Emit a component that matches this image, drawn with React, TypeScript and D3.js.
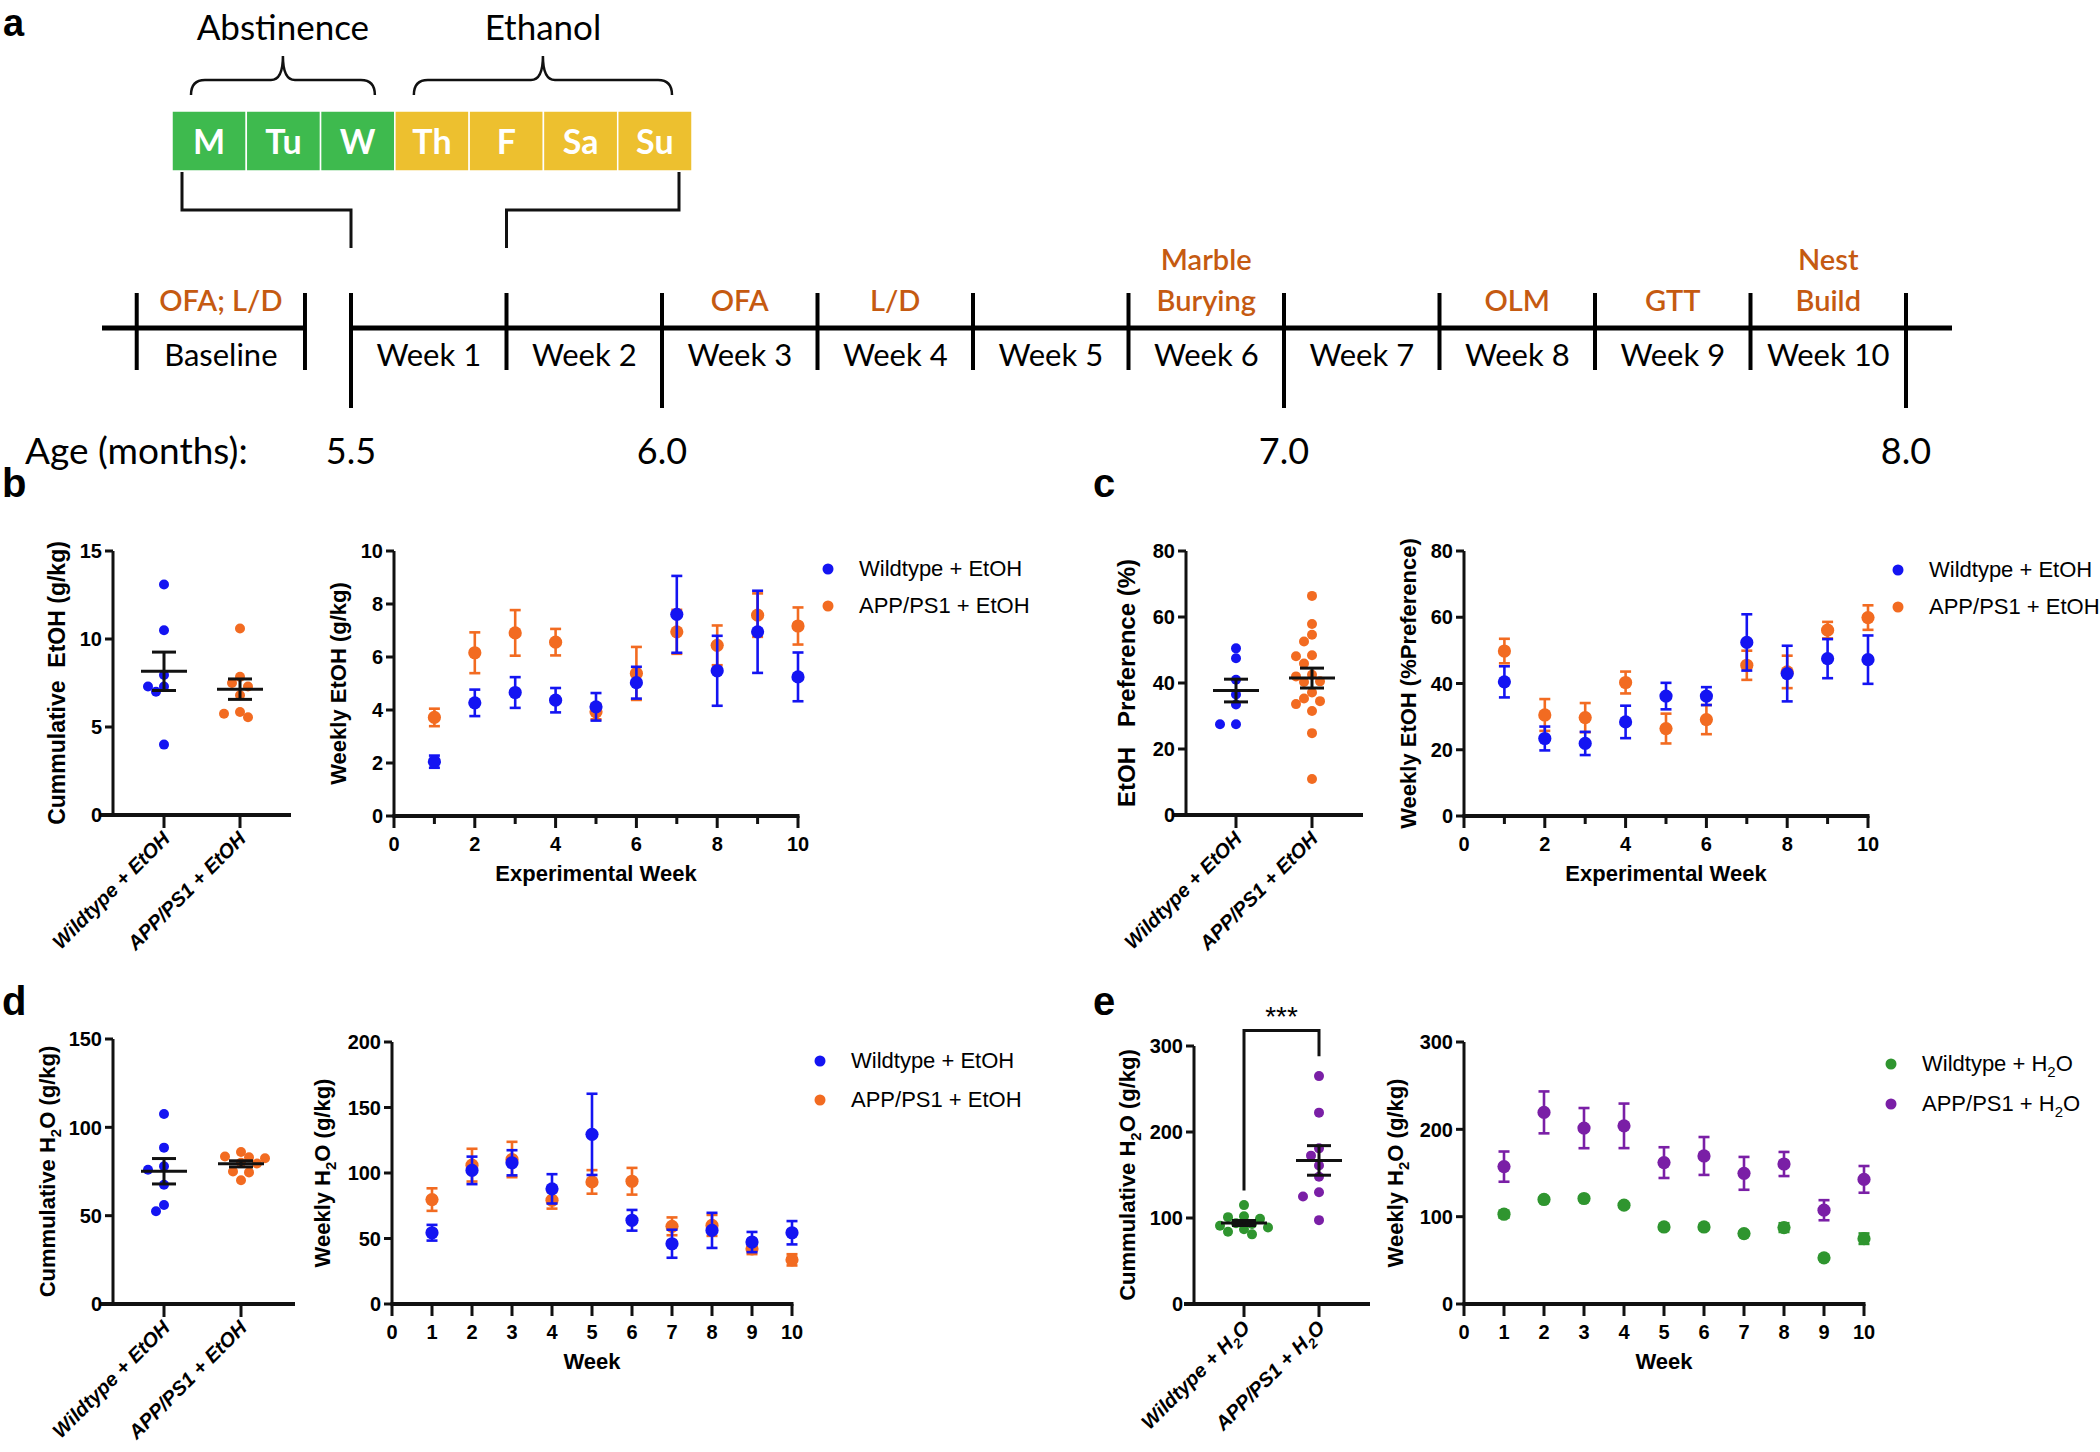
import React from 'react';
import * as d3 from 'd3';

// ---------------- Panel a (timeline) ----------------
const days = ['M', 'Tu', 'W', 'Th', 'F', 'Sa', 'Su'];
const dayPhase = [0, 0, 0, 1, 1, 1, 1];
const phaseLabels = ['Abstinence', 'Ethanol'];
const weekLabels = ['Week 1', 'Week 2', 'Week 3', 'Week 4', 'Week 5', 'Week 6', 'Week 7', 'Week 8', 'Week 9', 'Week 10'];
const baselineLabel = 'Baseline';
const baselineTest = 'OFA; L/D';
const testWeeks = [3, 4, 6, 8, 9, 10];
const testNames = [['OFA'], ['L/D'], ['Marble', 'Burying'], ['OLM'], ['GTT'], ['Nest', 'Build']];
const ageWeeks = [0, 2, 6, 10];
const ageLabels = ['5.5', '6.0', '7.0', '8.0'];

// ---------------- Shared ----------------
const weeks = [1, 2, 3, 4, 5, 6, 7, 8, 9, 10];
const etohGroups = ['Wildtype + EtOH', 'APP/PS1 + EtOH'];

// Panel b
const cumEtohWT = [13.1, 10.5, 7.95, 7.3, 7.3, 7.0, 4.0];
const cumEtohAPP = [10.6, 7.85, 7.5, 7.3, 6.8, 5.85, 5.75, 5.55];
const wkEtohWT = [2.05, 4.27, 4.66, 4.37, 4.12, 5.03, 7.61, 5.48, 6.95, 5.25];
const wkEtohWTsem = [0.23, 0.5, 0.58, 0.46, 0.52, 0.6, 1.45, 1.32, 1.55, 0.92];
const wkEtohAPP = [3.72, 6.16, 6.91, 6.56, 3.93, 5.38, 6.95, 6.44, 7.58, 7.17];
const wkEtohAPPsem = [0.33, 0.77, 0.86, 0.5, 0.28, 1.0, 0.83, 0.75, 0.82, 0.7];

// Panel c
const prefWT = [50.5, 47.5, 41, 36.5, 33.5, 27.5, 27.5];
const prefAPP = [66.4, 57.9, 54.6, 52.6, 48.4, 48.1, 45.9, 42.5, 42, 40.3, 40.5, 37.1, 35.3, 34.5, 33.6, 31.5, 24.8, 10.9];
const wkPrefWT = [40.5, 23.4, 21.9, 28.4, 36.2, 36.2, 52.4, 43, 47.5, 47.2];
const wkPrefWTsem = [4.7, 3.6, 3.5, 4.9, 4, 2.7, 8.5, 8.4, 5.9, 7.3];
const wkPrefAPP = [49.8, 30.5, 29.7, 40.3, 26.4, 29.1, 45.5, 43.5, 56.1, 59.9];
const wkPrefAPPsem = [3.7, 4.8, 4.4, 3.3, 4.5, 4.4, 4.4, 4.9, 2.5, 3.7];

// Panel d
const cumH2oEtWT = [107.5, 88.5, 78, 76, 67.5, 56, 52.5];
const cumH2oEtAPP = [86, 83.5, 83, 82.5, 80, 79.5, 75, 74.5, 70];
const wkH2oEtWT = [54.4, 102, 107.8, 87.9, 129.5, 63.9, 46, 56.2, 47.3, 54.4];
const wkH2oEtWTsem = [6, 10.5, 9.6, 11.2, 31, 7.9, 10.7, 13.4, 7.7, 8.9];
const wkH2oEtAPP = [79.7, 106, 110.3, 79.2, 93.2, 93.7, 59.3, 60, 42.1, 33.7];
const wkH2oEtAPPsem = [8.6, 12.5, 13.5, 6.4, 9, 10.2, 6.8, 8, 4, 4.3];

// Panel e
const cumH2oWT = [115, 102, 101, 99, 94, 93, 91, 89, 87, 84, 81];
const cumH2oAPP = [265, 222.5, 181, 172.5, 161, 148, 130, 125, 97.5];
const wkH2oWT = [102.8, 119.7, 120.8, 113.2, 88.2, 88.2, 80.6, 87.5, 52.9, 74.8];
const wkH2oWTsem = [4, 2, 2, 2, 2, 2, 2, 5, 2, 6];
const wkH2oAPP = [157.3, 219.4, 201.4, 204, 161.9, 169.5, 149.6, 160.3, 107.4, 142.7];
const wkH2oAPPsem = [17.3, 24, 23, 25.5, 17.6, 21.7, 18.8, 13.8, 11.5, 15.3];
const sigLabel = '***';

// ---------------- Styles ----------------
const BLUE = '#1414F2';
const ORANGE = '#F26B21';
const GREEN = '#2F952F';
const PURPLE = '#7A1FA6';
const TL_ORANGE = '#C55A11';
const BOX_GREEN = '#3EBA4E';
const BOX_YELLOW = '#EDC02F';
const AX = '#111';
const SANS = '"Liberation Sans", Arial, sans-serif';
const CAL = 'Lato, "Open Sans", sans-serif';

type Node = React.ReactNode;

function H2O({ size }: { size: number }) {
  return (
    <>
      H<tspan dy={size * 0.28} fontSize={size * 0.68}>2</tspan>
      <tspan dy={-size * 0.28}>O</tspan>
    </>
  );
}

function PanelA() {
  const wx = d3.scaleLinear().domain([0, 10]).range([351, 1906]);
  const dx = d3.scaleBand<string>().domain(days).range([172, 692]);
  const lineY = 328;
  const tickTop = 293;
  const shortBot = 370;
  const longBot = 408;
  const baseL = wx(-1.378);
  const baseR = wx(-0.296);
  const braceY = 80;
  const braces = phaseLabels.map((lab, p) => {
    const idx = days.filter((_, i) => dayPhase[i] === p);
    const x0 = (dx(idx[0]) as number) + 19;
    const x1 = (dx(idx[idx.length - 1]) as number) + dx.bandwidth() - 20;
    return { lab, x0, x1, cx: (x0 + x1) / 2 };
  });
  const bracketL = (dx('M') as number) + 10;
  const bracketR = (dx('Su') as number) + dx.bandwidth() - 13;
  return (
    <g fontFamily={CAL}>
      <text x={3} y={36} fontFamily={SANS} fontWeight="bold" fontSize={38}>a</text>
      {braces.map((b) => (
        <g key={b.lab}>
          <text x={b.cx} y={40} textAnchor="middle" fontSize={35}>{b.lab}</text>
          <path
            d={`M${b.x0},${braceY + 15} Q${b.x0},${braceY} ${b.x0 + 14},${braceY} H${b.cx - 12} Q${b.cx},${braceY} ${b.cx},${braceY - 24} Q${b.cx},${braceY} ${b.cx + 12},${braceY} H${b.x1 - 14} Q${b.x1},${braceY} ${b.x1},${braceY + 15}`}
            fill="none" stroke="#111" strokeWidth={2.5}
          />
        </g>
      ))}
      {days.map((d, i) => (
        <g key={d}>
          <rect x={dx(d)} y={111} width={dx.bandwidth()} height={60}
            fill={dayPhase[i] === 0 ? BOX_GREEN : BOX_YELLOW} stroke="#fff" strokeWidth={1.5} />
          <text x={(dx(d) as number) + dx.bandwidth() / 2} y={154} textAnchor="middle" fill="#fff"
            fontWeight="bold" fontSize={34}>{d}</text>
        </g>
      ))}
      <path d={`M${bracketL},172 V210 H${wx(0)} V248`} fill="none" stroke="#111" strokeWidth={3} />
      <path d={`M${bracketR},172 V210 H${wx(1)} V248`} fill="none" stroke="#111" strokeWidth={3} />

      <line x1={102} x2={baseR} y1={lineY} y2={lineY} stroke="#000" strokeWidth={5} />
      <line x1={wx(0)} x2={1952} y1={lineY} y2={lineY} stroke="#000" strokeWidth={5} />
      {[baseL, baseR].map((x, i) => (
        <line key={i} x1={x} x2={x} y1={tickTop} y2={shortBot} stroke="#000" strokeWidth={4} />
      ))}
      {d3.range(0, 11).map((i) => (
        <line key={i} x1={wx(i)} x2={wx(i)} y1={tickTop} y2={ageWeeks.includes(i) ? longBot : shortBot}
          stroke="#000" strokeWidth={4} />
      ))}
      <text x={(baseL + baseR) / 2} y={366} textAnchor="middle" fontSize={31}>{baselineLabel}</text>
      <text x={(baseL + baseR) / 2} y={311} textAnchor="middle" fontSize={29} fontWeight={600} fill={TL_ORANGE}>{baselineTest}</text>
      {weekLabels.map((w, i) => (
        <text key={w} x={wx(i + 0.5)} y={366} textAnchor="middle" fontSize={31}>{w}</text>
      ))}
      {testWeeks.map((w, i) => (
        <text key={w} x={wx(w - 0.5)} y={311 - (testNames[i].length - 1) * 41} textAnchor="middle" fontSize={29}
          fontWeight={600} fill={TL_ORANGE}>
          {testNames[i].map((t, j) => (
            <tspan key={j} x={wx(w - 0.5)} dy={j === 0 ? 0 : 41}>{t}</tspan>
          ))}
        </text>
      ))}
      <text x={25} y={464} fontSize={37}>Age (months):</text>
      {ageWeeks.map((w, i) => (
        <text key={w} x={wx(w)} y={464} textAnchor="middle" fontSize={36}>{ageLabels[i]}</text>
      ))}
    </g>
  );
}

function swarm(values: number[], y: (v: number) => number, step: number, minDist: number): number[] {
  const placed: { dx: number; py: number }[] = [];
  return values.map((v) => {
    const py = y(v);
    for (let k = 0; k < 40; k++) {
      const cands = k === 0 ? [0] : [-k * step, k * step];
      for (const d of cands) {
        if (placed.every((p) => Math.hypot(p.dx - d, p.py - py) >= minDist)) {
          placed.push({ dx: d, py });
          return d;
        }
      }
    }
    return 0;
  });
}

type CumProps = {
  axisX: number; xStart: number; xEnd: number; cats: [number, number];
  y0: number; yTop: number; yMax: number; yTicks: number[];
  groups: { values: number[]; color: string; label: Node }[];
  yTitle: Node; yTitleX: number; yTitleSize: number;
  sig?: { top: number; leftEnd: number; rightEnd: number; label: string };
};

function CumChart(p: CumProps) {
  const y = d3.scaleLinear().domain([0, p.yMax]).range([p.y0, p.yTop]);
  const x = d3.scalePoint<number>().domain([0, 1]).range(p.cats);
  const r = 5;
  return (
    <g fontFamily={SANS}>
      {p.groups.map((g, gi) => {
        const offs = swarm(g.values, y, 8, 9.5);
        const cx = x(gi) as number;
        const mean = d3.mean(g.values) as number;
        const sem = (d3.deviation(g.values) as number) / Math.sqrt(g.values.length);
        return (
          <g key={gi}>
            {g.values.map((v, i) => (
              <circle key={i} cx={cx + offs[i]} cy={y(v)} r={r} fill={g.color} />
            ))}
            <line x1={cx - 23} x2={cx + 23} y1={y(mean)} y2={y(mean)} stroke="#111" strokeWidth={3} />
            <line x1={cx} x2={cx} y1={y(mean - sem)} y2={y(mean + sem)} stroke="#111" strokeWidth={3} />
            <line x1={cx - 12} x2={cx + 12} y1={y(mean + sem)} y2={y(mean + sem)} stroke="#111" strokeWidth={3} />
            <line x1={cx - 12} x2={cx + 12} y1={y(mean - sem)} y2={y(mean - sem)} stroke="#111" strokeWidth={3} />
            <line x1={cx} x2={cx} y1={p.y0} y2={p.y0 + 13} stroke={AX} strokeWidth={3} />
            <text transform={`translate(${cx + 7},${p.y0 + 25}) rotate(-45)`} textAnchor="end"
              fontSize={20} fontWeight="bold" fontStyle="italic">{g.label}</text>
          </g>
        );
      })}
      <line x1={p.axisX} x2={p.axisX} y1={p.y0} y2={p.yTop} stroke={AX} strokeWidth={3} />
      <line x1={p.xStart} x2={p.xEnd} y1={p.y0} y2={p.y0} stroke={AX} strokeWidth={4} />
      {p.yTicks.map((t) => (
        <g key={t}>
          <line x1={p.axisX - 8} x2={p.axisX} y1={y(t)} y2={y(t)} stroke={AX} strokeWidth={3} />
          <text x={p.axisX - 11} y={y(t)} dy="0.36em" textAnchor="end" fontSize={20} fontWeight="bold">{t}</text>
        </g>
      ))}
      <text transform={`translate(${p.yTitleX},${(p.y0 + p.yTop) / 2}) rotate(-90)`} textAnchor="middle" dy="0.36em"
        fontSize={p.yTitleSize} fontWeight="bold" style={{ whiteSpace: 'pre' }}>{p.yTitle}</text>
      {p.sig && (
        <g>
          <path d={`M${p.cats[0]},${y(p.sig.leftEnd)} V${y(p.sig.top)} H${p.cats[1]} V${y(p.sig.rightEnd)}`}
            fill="none" stroke="#111" strokeWidth={3} />
          <text x={(p.cats[0] + p.cats[1]) / 2} y={y(p.sig.top) - 5} textAnchor="middle" fontSize={28}>{p.sig.label}</text>
        </g>
      )}
    </g>
  );
}

type WkProps = {
  x0: number; x1: number; y0: number; yTop: number; yMax: number; yTicks: number[];
  series: { values: number[]; sems: number[]; color: string; label: Node }[];
  labelAll: boolean; xTitle: string; yTitle: Node; yTitleX: number;
  legX: number; legY: number; legDy: number;
};

function WeeklyChart(p: WkProps) {
  const x = d3.scaleLinear().domain([0, 10]).range([p.x0, p.x1]);
  const y = d3.scaleLinear().domain([0, p.yMax]).range([p.y0, p.yTop]);
  const drawOrder = [...p.series].reverse();
  return (
    <g fontFamily={SANS}>
      <line x1={p.x0} x2={p.x0} y1={p.y0} y2={p.yTop} stroke={AX} strokeWidth={3} />
      <line x1={p.x0 - 1.5} x2={p.x1 + 1.5} y1={p.y0} y2={p.y0} stroke={AX} strokeWidth={4} />
      {p.yTicks.map((t) => (
        <g key={t}>
          <line x1={p.x0 - 8} x2={p.x0} y1={y(t)} y2={y(t)} stroke={AX} strokeWidth={3} />
          <text x={p.x0 - 11} y={y(t)} dy="0.36em" textAnchor="end" fontSize={20} fontWeight="bold">{t}</text>
        </g>
      ))}
      {d3.range(0, 11).map((t) => {
        const lab = p.labelAll || t % 2 === 0;
        return (
          <g key={t}>
            <line x1={x(t)} x2={x(t)} y1={p.y0} y2={p.y0 + (lab ? 12 : 8)} stroke={AX} strokeWidth={3} />
            {lab && <text x={x(t)} y={p.y0 + 35} textAnchor="middle" fontSize={20} fontWeight="bold">{t}</text>}
          </g>
        );
      })}
      <text x={(p.x0 + p.x1) / 2} y={p.y0 + 65} textAnchor="middle" fontSize={22} fontWeight="bold">{p.xTitle}</text>
      <text transform={`translate(${p.yTitleX},${(p.y0 + p.yTop) / 2}) rotate(-90)`} textAnchor="middle" dy="0.36em"
        fontSize={22} fontWeight="bold">{p.yTitle}</text>
      {drawOrder.map((s, si) => (
        <g key={si}>
          {s.values.map((v, i) => {
            const cx = x(weeks[i]);
            const hi = y(v + s.sems[i]);
            const lo = y(v - s.sems[i]);
            return (
              <g key={i} stroke={s.color} strokeWidth={2.6}>
                <line x1={cx} x2={cx} y1={hi} y2={lo} />
                <line x1={cx - 5.5} x2={cx + 5.5} y1={hi} y2={hi} />
                <line x1={cx - 5.5} x2={cx + 5.5} y1={lo} y2={lo} />
                <circle cx={cx} cy={y(v)} r={6.6} fill={s.color} stroke="none" />
              </g>
            );
          })}
        </g>
      ))}
      {p.series.map((s, i) => (
        <g key={i}>
          <circle cx={p.legX} cy={p.legY + i * p.legDy} r={5.5} fill={s.color} />
          <text x={p.legX + 31} y={p.legY + i * p.legDy + 7} fontSize={22}>{s.label}</text>
        </g>
      ))}
    </g>
  );
}

function PanelLabel({ x, y, t }: { x: number; y: number; t: string }) {
  return <text x={x} y={y} fontFamily={SANS} fontWeight="bold" fontSize={40}>{t}</text>;
}

export default function App() {
  return (
    <svg width={2100} height={1452} viewBox="0 0 2100 1452"
      style={{ position: 'absolute', left: 0, top: 0, background: '#fff' }}>
      <rect width={2100} height={1452} fill="#fff" />
      <PanelA />

      <PanelLabel x={2} y={497} t="b" />
      <CumChart axisX={113} xStart={100} xEnd={291} cats={[164, 240]} y0={815} yTop={551} yMax={15}
        yTicks={[0, 5, 10, 15]}
        groups={[
          { values: cumEtohWT, color: BLUE, label: etohGroups[0] },
          { values: cumEtohAPP, color: ORANGE, label: etohGroups[1] },
        ]}
        yTitle="Cummulative  EtOH (g/kg)" yTitleX={57} yTitleSize={23} />
      <WeeklyChart x0={394} x1={798} y0={816} yTop={551} yMax={10} yTicks={[0, 2, 4, 6, 8, 10]}
        series={[
          { values: wkEtohWT, sems: wkEtohWTsem, color: BLUE, label: etohGroups[0] },
          { values: wkEtohAPP, sems: wkEtohAPPsem, color: ORANGE, label: etohGroups[1] },
        ]}
        labelAll={false} xTitle="Experimental Week" yTitle="Weekly EtOH (g/kg)" yTitleX={338}
        legX={828} legY={569} legDy={37} />

      <PanelLabel x={1093} y={497} t="c" />
      <CumChart axisX={1186} xStart={1174} xEnd={1363} cats={[1236, 1312]} y0={815} yTop={551} yMax={80}
        yTicks={[0, 20, 40, 60, 80]}
        groups={[
          { values: prefWT, color: BLUE, label: etohGroups[0] },
          { values: prefAPP, color: ORANGE, label: etohGroups[1] },
        ]}
        yTitle="EtOH   Preference (%)" yTitleX={1126} yTitleSize={24} />
      <WeeklyChart x0={1464} x1={1868} y0={816} yTop={551} yMax={80} yTicks={[0, 20, 40, 60, 80]}
        series={[
          { values: wkPrefWT, sems: wkPrefWTsem, color: BLUE, label: etohGroups[0] },
          { values: wkPrefAPP, sems: wkPrefAPPsem, color: ORANGE, label: etohGroups[1] },
        ]}
        labelAll={false} xTitle="Experimental Week" yTitle="Weekly EtOH (%Preference)" yTitleX={1408}
        legX={1898} legY={570} legDy={37} />

      <PanelLabel x={2} y={1015} t="d" />
      <CumChart axisX={113} xStart={100} xEnd={295} cats={[164, 241]} y0={1304} yTop={1039} yMax={150}
        yTicks={[0, 50, 100, 150]}
        groups={[
          { values: cumH2oEtWT, color: BLUE, label: etohGroups[0] },
          { values: cumH2oEtAPP, color: ORANGE, label: etohGroups[1] },
        ]}
        yTitle={<>Cummulative <H2O size={22} /> (g/kg)</>} yTitleX={47} yTitleSize={22} />
      <WeeklyChart x0={392} x1={792} y0={1304} yTop={1042} yMax={200} yTicks={[0, 50, 100, 150, 200]}
        series={[
          { values: wkH2oEtWT, sems: wkH2oEtWTsem, color: BLUE, label: etohGroups[0] },
          { values: wkH2oEtAPP, sems: wkH2oEtAPPsem, color: ORANGE, label: etohGroups[1] },
        ]}
        labelAll={true} xTitle="Week" yTitle={<>Weekly <H2O size={22} /> (g/kg)</>} yTitleX={322}
        legX={820} legY={1061} legDy={39} />

      <PanelLabel x={1093} y={1015} t="e" />
      <CumChart axisX={1194} xStart={1184} xEnd={1370} cats={[1244, 1319]} y0={1304} yTop={1046} yMax={300}
        yTicks={[0, 100, 200, 300]}
        groups={[
          { values: cumH2oWT, color: GREEN, label: <>Wildtype + <H2O size={20} /></> },
          { values: cumH2oAPP, color: PURPLE, label: <>APP/PS1 + <H2O size={20} /></> },
        ]}
        yTitle={<>Cummulative <H2O size={22} /> (g/kg)</>} yTitleX={1127} yTitleSize={22}
        sig={{ top: 318, leftEnd: 132, rightEnd: 288, label: sigLabel }} />
      <WeeklyChart x0={1464} x1={1864} y0={1304} yTop={1042} yMax={300} yTicks={[0, 100, 200, 300]}
        series={[
          { values: wkH2oWT, sems: wkH2oWTsem, color: GREEN, label: <>Wildtype + <H2O size={22} /></> },
          { values: wkH2oAPP, sems: wkH2oAPPsem, color: PURPLE, label: <>APP/PS1 + <H2O size={22} /></> },
        ]}
        labelAll={true} xTitle="Week" yTitle={<>Weekly <H2O size={22} /> (g/kg)</>} yTitleX={1395}
        legX={1891} legY={1064} legDy={40} />
    </svg>
  );
}
